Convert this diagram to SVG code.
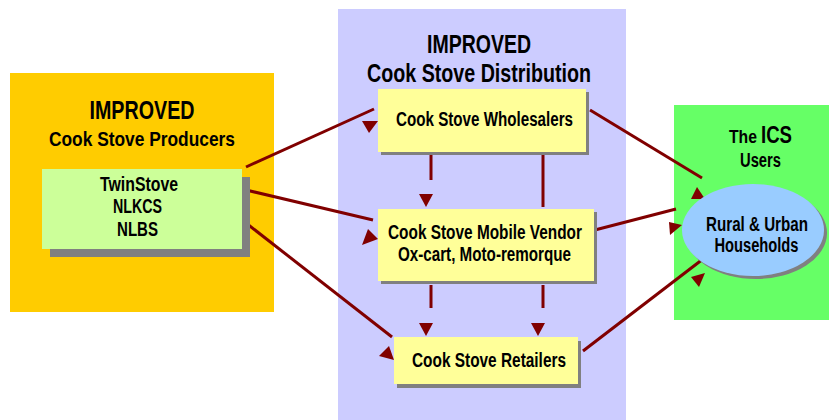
<svg xmlns="http://www.w3.org/2000/svg" width="829" height="420" viewBox="0 0 829 420">
  <style>
    text { font-family: "Liberation Sans Narrow", "Liberation Sans", Arial, sans-serif; font-weight: bold; fill: #000; text-anchor: middle; }
    .t24 { font-size: 25px; }
    .t21 { font-size: 21px; }
    .t19 { font-size: 20px; }
    .shadow { fill: #808080; }
    .box { fill: #FFFF99; }
    .link { stroke: #800000; stroke-width: 3; fill: none; }
    .head { fill: #800000; }
  </style>

  <!-- background panels -->
  <rect x="10" y="73" width="264" height="239" fill="#FFCC00"/>
  <rect x="338" y="9" width="288" height="411" fill="#CCCCFF"/>
  <rect x="674" y="105" width="155" height="215" fill="#66FF66"/>

  <!-- panel titles -->
  <text class="t24" x="142" y="119" textLength="105" lengthAdjust="spacingAndGlyphs">IMPROVED</text>
  <text class="t21" x="142" y="146" textLength="186" lengthAdjust="spacingAndGlyphs">Cook Stove Producers</text>
  <text class="t24" x="479" y="53" textLength="104" lengthAdjust="spacingAndGlyphs">IMPROVED</text>
  <text class="t24" x="479" y="82" textLength="224" lengthAdjust="spacingAndGlyphs">Cook Stove Distribution</text>
  <text x="729" y="143" style="text-anchor:start;font-size:19px" textLength="28" lengthAdjust="spacingAndGlyphs">The</text>
  <text x="761" y="143" style="text-anchor:start;font-size:24px" textLength="31" lengthAdjust="spacingAndGlyphs">ICS</text>
  <text class="t19" x="760.5" y="167" textLength="41" lengthAdjust="spacingAndGlyphs">Users</text>

  <!-- connectors -->
  <g id="connectors">
    <line class="link" x1="246" y1="167" x2="374" y2="109"/>
    <polygon class="head" points="362,121 378,121 369,133"/>
    <line class="link" x1="246" y1="190" x2="373" y2="220"/>
    <polygon class="head" points="368,229 378,239 362,245"/>
    <line class="link" x1="246" y1="223" x2="392" y2="337"/>
    <polygon class="head" points="389,346 394,360 379,356"/>
    <line class="link" x1="431" y1="134" x2="431" y2="180"/>
    <polygon class="head" points="419,194 433,194 426,207"/>
    <line class="link" x1="543" y1="134" x2="543" y2="207"/>
    <line class="link" x1="431" y1="285" x2="431" y2="308"/>
    <polygon class="head" points="419,323 433,323 426,336"/>
    <line class="link" x1="543" y1="285" x2="543" y2="308"/>
    <polygon class="head" points="531,323 545,323 538,336"/>
    <line class="link" x1="590" y1="110" x2="702" y2="178"/>
    <polygon class="head" points="697,187 705,199 691,199"/>
    <line class="link" x1="591" y1="231" x2="676" y2="209"/>
    <polygon class="head" points="669,222 682,225 670,235"/>
    <line class="link" x1="583" y1="351" x2="703" y2="259"/>
    <polygon class="head" points="691,277 705,273 699,287"/>
  </g>

  <!-- producer product list -->
  <g id="producers">
    <rect class="shadow" x="50" y="177" width="200" height="80"/>
    <rect x="42" y="169" width="200" height="80" fill="#CCFF99"/>
    <text class="t19" x="139" y="191" textLength="78" lengthAdjust="spacingAndGlyphs">TwinStove</text>
    <text class="t19" x="137.5" y="213" textLength="49" lengthAdjust="spacingAndGlyphs">NLKCS</text>
    <text class="t19" x="137.5" y="236" textLength="41" lengthAdjust="spacingAndGlyphs">NLBS</text>
  </g>

  <g id="wholesalers">
    <rect class="shadow" x="381" y="92" width="208" height="63"/>
    <rect class="box" x="378" y="89" width="208" height="63"/>
    <text class="t19" x="484.5" y="126" textLength="177" lengthAdjust="spacingAndGlyphs">Cook Stove Wholesalers</text>
  </g>

  <g id="mobile-vendor">
    <rect class="shadow" x="381" y="212" width="216" height="72"/>
    <rect class="box" x="378" y="209" width="216" height="72"/>
    <text class="t19" x="485" y="239" textLength="194" lengthAdjust="spacingAndGlyphs">Cook Stove Mobile Vendor</text>
    <text class="t19" x="484.5" y="261" textLength="173" lengthAdjust="spacingAndGlyphs">Ox-cart, Moto-remorque</text>
  </g>

  <g id="retailers">
    <rect class="shadow" x="397" y="341" width="184" height="47"/>
    <rect class="box" x="394" y="337" width="184" height="47"/>
    <text class="t19" x="489" y="367" textLength="154" lengthAdjust="spacingAndGlyphs">Cook Stove Retailers</text>
  </g>

  <g id="households">
    <ellipse cx="756" cy="233" rx="71" ry="46" fill="#808080"/>
    <ellipse cx="753" cy="230" rx="71" ry="46" fill="#99CCFF"/>
    <text class="t19" x="757" y="231" textLength="102" lengthAdjust="spacingAndGlyphs">Rural &amp; Urban</text>
    <text class="t19" x="756.5" y="252" textLength="84" lengthAdjust="spacingAndGlyphs">Households</text>
  </g>
</svg>
